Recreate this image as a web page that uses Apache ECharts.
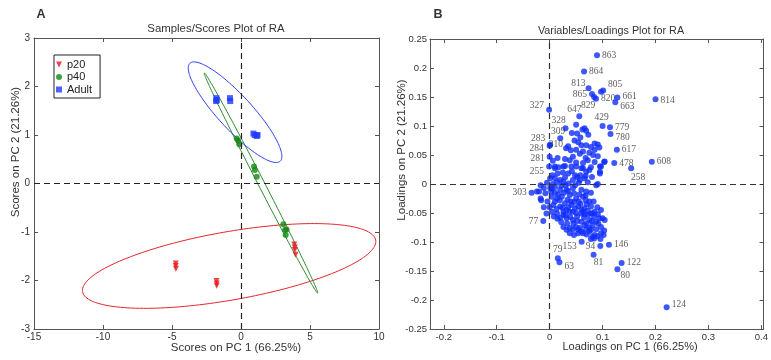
<!DOCTYPE html>
<html><head><meta charset="utf-8">
<script src="https://cdn.jsdelivr.net/npm/echarts@6/dist/echarts.min.js"></script>
<style>html,body{margin:0;padding:0;background:#fff}#c{width:771px;height:360px}</style>
</head><body><div id="c"></div>
<script>
// ---------- DATA ----------
// Panel A: scores
const scoreXTicks = [-15, -10, -5, 0, 5, 10];
const scoreYTicks = [-3, -2, -1, 0, 1, 2, 3];
const p20 = [[-4.73,-1.65],[-4.73,-1.70],[-4.72,-1.76],[-1.78,-2.01],[-1.76,-2.06],[-1.76,-2.11],[3.86,-1.26],[3.90,-1.32],[3.90,-1.37],[3.95,-1.47]];
const p40 = [[-0.31,0.93],[-0.20,0.88],[-0.12,0.81],[0.94,0.35],[1.00,0.28],[1.14,0.14],[3.07,-0.84],[3.19,-0.96],[3.24,-1.06],[3.30,-0.95]];
const adult = [[-1.78,1.76],[-1.76,1.72],[-1.80,1.70],[-0.80,1.76],[-0.78,1.70],[0.90,1.03],[1.00,1.00],[1.14,0.98],[1.20,1.00]];
// ellipses: [centreX, centreY, semiAxis1X, semiAxis1Y, semiAxis2X, semiAxis2Y]
const p20Ellipse = [-0.86, -1.70, 10.62, 0.532, 0.429, -0.693];
const p40Ellipse = [1.45, 0.01, -4.11, 2.27, 0.206, 0.030];
const adultEllipse = [-0.43, 1.47, 3.27, -1.01, 0.906, 0.237];

// Panel B: loadings
const loadXTicks = [-0.2, -0.1, 0, 0.1, 0.2, 0.3, 0.4];
const loadYTicks = [-0.25, -0.2, -0.15, -0.1, -0.05, 0, 0.05, 0.1, 0.15, 0.2, 0.25];
const labelledLoadings = [
 ['863',0.0895,0.222],['864',0.065,0.194],['813',0.0735,0.165],['805',0.101,0.161],['865',0.080,0.155],
 ['820',0.0876,0.147],['829',0.084,0.150],['661',0.128,0.149],['663',0.124,0.141],['814',0.200,0.146],
 ['327',-0.001,0.128],['647',0.056,0.117],['429',0.100,0.100],['779',0.114,0.098],['328',0.030,0.096],
 ['780',0.115,0.086],['617',0.127,0.059],['478',0.122,0.036],['608',0.193,0.0385],['258',0.154,0.027],
 ['283',0.001,0.068],['284',0.000,0.066],['309',0.020,0.079],['310',0.031,0.0616],['281',0.000,0.047],
 ['255',-0.001,0.030],['303',-0.034,-0.015],['77',-0.012,-0.064],['153',0.0605,-0.0995],['94',0.0957,-0.107],
 ['146',0.112,-0.1046],['81',0.083,-0.122],['79',0.0154,-0.128],['63',0.0185,-0.135],['122',0.136,-0.136],
 ['80',0.128,-0.147],['124',0.221,-0.2126]
];
const otherLoadings = [
 [0.097,0.159],[0.050,0.102],[0.052,0.087],[0.066,0.096],[0.069,0.092],[0.062,0.094],
 [0.047,0.075],[0.054,0.072],[0.060,0.067],[0.069,0.067],[0.078,0.064],[0.085,0.070],[0.091,0.068],
 [0.094,0.063],[0.085,0.059],[0.075,0.054],[0.063,0.056],[0.057,0.052],[0.050,0.059],[0.029,0.043],
 [0.038,0.041],[0.044,0.047],[0.050,0.037],[0.063,0.036],[0.072,0.041],[0.085,0.038],[0.103,0.038],
 [0.091,0.048],[0.010,0.030],[0.017,0.029],[0.029,0.031],[0.050,0.030],[0.063,0.027],[0.078,0.029],
 [0.097,0.030],[0.095,0.018],[0.075,0.024],[0.010,0.027],[0.026,0.030],[0.041,0.030],[0.060,0.027],
 [0.069,0.021],[0.095,0.021],[0.001,0.010],[0.010,0.010],[0.020,0.007],[0.029,0.011],[0.044,0.007],
 [0.057,0.007],[0.066,0.010],[0.091,0.000],[0.088,-0.002],[-0.011,-0.007],[-0.020,-0.013],[-0.017,-0.002],
 [0.001,-0.007],[0.010,-0.005],[0.020,-0.010],[0.032,-0.010],[0.044,-0.007],[0.060,-0.010],[0.069,-0.013],
 [0.004,-0.022],[0.014,-0.025],[0.023,-0.022],[0.038,-0.019],[0.050,-0.025],[0.063,-0.022],[0.075,-0.030],
 [0.007,-0.036],[0.020,-0.039],[0.029,-0.033],[0.041,-0.036],[0.054,-0.039],[0.066,-0.042],[0.078,-0.039],
 [0.085,-0.048],[0.026,-0.048],[0.044,-0.048],[0.060,-0.051],[-0.017,-0.025],[-0.011,-0.040],[-0.006,-0.051],
 [0.004,-0.008],[0.004,-0.048],[0.014,-0.051],[0.026,-0.053],[0.038,-0.048],[0.050,-0.050],[0.063,-0.048],
 [0.072,-0.053],[0.081,-0.051],[0.094,-0.059],[0.097,-0.045],[0.032,-0.059],[0.044,-0.062],[0.060,-0.065],
 [0.075,-0.062],[0.026,-0.074],[0.038,-0.076],[0.050,-0.074],[0.066,-0.071],[0.081,-0.071],[0.078,-0.079],
 [0.097,-0.085],[0.060,-0.082],[0.085,-0.088],[0.081,-0.091],[0.078,-0.051],[0.088,-0.065],[0.097,-0.074],
 [0.100,-0.059],[0.075,-0.076],[0.054,-0.079],[0.038,-0.085],[0.063,-0.085],[0.054,-0.085],[0.075,-0.082],
 [0.084,-0.094],[0.010,-0.015],[0.030,-0.002],[0.040,-0.030],[0.015,-0.060],[0.035,-0.040],[0.055,-0.030],
 [0.065,-0.058],[0.045,-0.068],[0.070,-0.035],[0.022,-0.003],[0.048,0.015],[0.035,0.018],[0.058,0.015],
 [0.080,0.012],[0.015,0.045],[0.040,0.058],[0.068,0.045],[0.082,0.050],[0.006,0.040],[0.035,0.065],
 [0.042,0.088],[0.058,0.080],[0.073,0.085],[-0.024,-0.013],[-0.016,-0.028],[0.095,0.030],[0.104,0.039],
 [0.005,0.015],[0.015,0.018],[0.025,0.020],[0.042,0.022],[0.052,0.012],[0.068,0.014],
 [-0.005,0.002],[0.006,0.000],[0.014,0.003],[0.026,0.004],[0.036,0.001],[0.048,-0.002],[0.055,0.002],[0.072,0.003],
 [-0.008,-0.016],[0.003,-0.013],[0.016,-0.018],[0.027,-0.015],[0.035,-0.012],[0.046,-0.016],[0.056,-0.018],[0.068,-0.020],[0.078,-0.015],
 [-0.004,-0.030],[0.010,-0.030],[0.019,-0.028],[0.034,-0.027],[0.046,-0.031],[0.058,-0.034],[0.068,-0.028],[0.083,-0.030],
 [0.000,-0.040],[0.013,-0.043],[0.024,-0.041],[0.032,-0.045],[0.048,-0.042],[0.060,-0.044],[0.072,-0.046],[0.090,-0.040],
 [0.008,-0.056],[0.020,-0.058],[0.030,-0.054],[0.039,-0.057],[0.052,-0.056],[0.066,-0.052],[0.084,-0.056],[0.091,-0.052],
 [0.022,-0.066],[0.033,-0.068],[0.052,-0.064],[0.070,-0.068],[0.080,-0.064],[0.092,-0.068],[0.104,-0.062],
 [0.032,-0.079],[0.044,-0.078],[0.057,-0.076],[0.069,-0.078],[0.088,-0.078],[0.103,-0.080],
 [0.046,-0.088],[0.070,-0.087],[0.090,-0.090],[0.102,-0.088],[0.078,-0.095],[0.096,-0.095]
];

// ---------- LAYOUT / STYLE ----------
const gridA = {left:34, top:38, width:345, height:291};
const gridB = {left:430, top:39, width:337, height:290};
const FS = 'Liberation Sans, Arial, sans-serif';
const labelPlace = {
 '863':['right',[0,0]], '864':['right',[0,0]], '813':['left',[2,-5]], '805':['right',[0,-6]], '865':['left',[0,0]],
 '820':['right',[0,0]], '829':['bottom',[-6,-2]], '661':['right',[0,-1]], '663':['right',[0,4]], '814':['right',[0,1]],
 '327':['left',[0,-4]], '647':['top',[-5,3]], '429':['top',[-1,1]], '779':['right',[0,0]], '328':['top',[-7,2]],
 '780':['right',[0,3]], '617':['right',[0,0]], '478':['right',[0,0]], '608':['right',[0,0]], '258':['bottom',[7,-1]],
 '283':['left',[0,-6]], '284':['left',[-1,3]], '309':['top',[-2,3]], '310':['left',[2,-4]], '281':['left',[0,2]],
 '255':['left',[0,5]], '303':['left',[0,0]], '77':['left',[0,0]], '153':['left',[0,5]], '94':['left',[0,0]],
 '146':['right',[0,0]], '81':['bottom',[5,-2]], '79':['top',[0,1]], '63':['right',[0,4]], '122':['right',[0,0]],
 '80':['right',[-2,6]], '124':['right',[0,-3]]
};

function fmt(v){ return String(Math.round(v*1000)/1000); }
function axisPair(kind, gi, min, max, ticks, fontSize, margin){
  const main = {
    gridIndex: gi, type:'value', min:min, max:max,
    position: kind==='x' ? 'bottom' : 'left',
    axisLine:{show:true, onZero:false, lineStyle:{color:'#555', width:1}},
    axisTick:{show:true, inside:true, length:4, customValues:ticks, lineStyle:{color:'#555'}},
    axisLabel:{show:true, customValues:ticks, formatter:fmt, margin:margin, color:'#333', fontSize:fontSize, fontFamily:FS},
    splitLine:{show:false}
  };
  const opp = JSON.parse(JSON.stringify(main));
  opp.position = kind==='x' ? 'top' : 'right';
  opp.axisLabel = {show:false};
  return [main, opp];
}
const xA = axisPair('x', 0, -15, 10, scoreXTicks, 10, 3);
const yA = axisPair('y', 0, -3, 3, scoreYTicks, 10, 4);
const xB = axisPair('x', 1, -0.226, 0.404, loadXTicks, 9.5, 3);
const yB = axisPair('y', 1, -0.25, 0.25, loadYTicks, 9.5, 3);

function ellipseSeries(name, params, color){
  return {
    type:'custom', name:name, xAxisIndex:0, yAxisIndex:0, silent:true, z:3,
    data:[params],
    encode:{x:0, y:1},
    renderItem:function(p, api){
      const cx=api.value(0), cy=api.value(1), ux=api.value(2), uy=api.value(3), vx=api.value(4), vy=api.value(5);
      const pts=[];
      for(let i=0;i<180;i++){
        const t=2*Math.PI*i/180, c=Math.cos(t), s=Math.sin(t);
        pts.push(api.coord([cx+ux*c+vx*s, cy+uy*c+vy*s]));
      }
      return {type:'polygon', shape:{points:pts}, style:{fill:'none', stroke:color, lineWidth:1}};
    }
  };
}
const dashLine = (color)=>({silent:true, symbol:['none','none'], animation:false,
  lineStyle:{type:[6,4], color:color, width:1.2}, label:{show:false}, emphasis:{disabled:true},
  data:[{xAxis:0},{yAxis:0}]});

const BLUE_B = '#0f2dff';
const labelledData = labelledLoadings.map(r=>{
  const pl = labelPlace[r[0]] || ['right',[0,0]];
  return {value:[r[1], r[2]], name:r[0],
    label:{show:true, position:pl[0], distance:2, formatter:r[0],
      fontFamily:'Liberation Serif, Times New Roman, serif', fontSize:9.5, color:'#333'}};
});

const txt = (text, x, y, size, opts={}) => ({type:'text', x:x, y:y, rotation:opts.rot||0, silent:true,
  style:{text:text, fill:'#333', font:(opts.bold?'bold ':'')+size+'px '+FS, align:'center', verticalAlign:'middle'}});

const option = {
  animation:false,
  backgroundColor:'#fff',
  grid:[gridA, gridB],
  xAxis:[xA[0], xA[1], xB[0], xB[1]],
  yAxis:[yA[0], yA[1], yB[0], yB[1]],
  legend:{
    data:[
      {name:'p20', icon:'path://M0,0L10,0L5,10Z'},
      {name:'p40', icon:'circle'},
      {name:'Adult', icon:'rect'}
    ],
    orient:'vertical', left:54, top:55, itemWidth:6, itemHeight:6, itemGap:1.5,
    padding:[4,8,3,2], borderColor:'#222', borderWidth:1, backgroundColor:'#fff',
    textStyle:{fontSize:11, fontFamily:FS, color:'#222', lineHeight:9}, selectedMode:false
  },
  graphic:[
    txt('A', 41, 15, 12.5, {bold:true}),
    txt('B', 438, 15, 12.5, {bold:true}),
    txt('Samples/Scores Plot of RA', 216, 29, 11.4),
    txt('Variables/Loadings Plot for RA', 611, 31, 10.8),
    txt('Scores on PC 1 (66.25%)', 236, 348, 11.5),
    txt('Scores on PC 2 (21.26%)', 16, 152, 11.5, {rot:Math.PI/2}),
    txt('Loadings on PC 1 (66.25%)', 630, 347, 11),
    txt('Loadings on PC 2 (21.26%)', 402, 150, 11.5, {rot:Math.PI/2})
  ],
  series:[
    ellipseSeries('p20 ellipse', p20Ellipse, '#e4262b'),
    ellipseSeries('p40 ellipse', p40Ellipse, '#2e8b2e'),
    ellipseSeries('Adult ellipse', adultEllipse, '#2b3cf2'),
    {type:'scatter', name:'p20', xAxisIndex:0, yAxisIndex:0, data:p20, symbol:'path://M0,0L10,0L5,10Z',
     symbolSize:[6,6], itemStyle:{color:'#e8161b'}, z:4, markLine:dashLine('#222')},
    {type:'scatter', name:'p40', xAxisIndex:0, yAxisIndex:0, data:p40, symbol:'circle',
     symbolSize:6, itemStyle:{color:'#128712'}, z:4},
    {type:'scatter', name:'Adult', xAxisIndex:0, yAxisIndex:0, data:adult, symbol:'rect',
     symbolSize:6, itemStyle:{color:'#1f3aff'}, z:4},
    {type:'scatter', name:'loadings', xAxisIndex:2, yAxisIndex:2, data:otherLoadings, symbol:'circle',
     symbolSize:6, itemStyle:{color:BLUE_B}, z:4, markLine:dashLine('#333')},
    {type:'scatter', name:'labelled loadings', xAxisIndex:2, yAxisIndex:2, data:labelledData, symbol:'circle',
     symbolSize:6, itemStyle:{color:BLUE_B}, z:5,
     labelLayout:function(p){
       const pl = labelPlace[labelledLoadings[p.dataIndex][0]] || ['right',[0,0]];
       return {dx:pl[1][0], dy:pl[1][1], hideOverlap:false};
     }}
  ]
};
const chart = echarts.init(document.getElementById('c'), null, {renderer:'canvas'});
chart.setOption(option);
</script>
</body></html>
